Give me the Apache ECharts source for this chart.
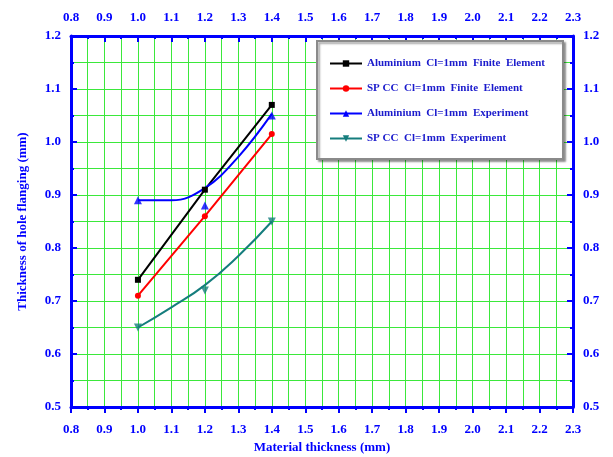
<!DOCTYPE html>
<html>
<head>
<meta charset="utf-8">
<script src="https://cdn.jsdelivr.net/npm/echarts@6/dist/echarts.min.js"></script>
<style>
  html, body { margin: 0; padding: 0; background: #fff; }
  #main { width: 613px; height: 457px; }
</style>
</head>
<body>
<div id="main"></div>
<script>
// measured points
var xVals = [1.0, 1.2, 1.4];
var aluFE = [0.74, 0.91, 1.07];
var spccFE = [0.71, 0.86, 1.015];
var aluExp = [0.89, 0.88, 1.05];
var spccExp = [0.65, 0.72, 0.85];
// fitted curves of the experiment data
var aluFitX = [1.0, 1.1, 1.2, 1.3, 1.4];
var aluFitY = [0.89, 0.89, 0.913, 0.972, 1.053];
var spccFitX = [1.0, 1.1, 1.2, 1.3, 1.4];
var spccFitY = [0.65, 0.688, 0.73, 0.785, 0.85];

var names = [
  'Aluminium  Cl=1mm  Finite  Element',
  'SP CC  Cl=1mm  Finite  Element',
  'Aluminium  Cl=1mm  Experiment',
  'SP CC  Cl=1mm  Experiment'
];

var blue = '#0000ff';
var teal = '#157d7d';
var font = '"Liberation Serif", "DejaVu Serif", serif';

function pairs(xs, ys) {
  return xs.map(function (x, i) { return [x, ys[i]]; });
}

var chart = echarts.init(document.getElementById('main'));

function xAxisOf(pos) {
  return {
    type: 'value',
    position: pos,
    min: 0.8,
    max: 2.3,
    interval: 0.1,
    axisLine: { show: true, onZero: false, lineStyle: { color: blue, width: 3 } },
    axisTick: { show: true, inside: pos === 'top', length: 6, lineStyle: { color: blue, width: 2 } },
    minorTick: { show: true, splitNumber: 2, length: 3, lineStyle: { color: blue, width: 2 } },
    axisLabel: {
      color: blue, fontFamily: font, fontWeight: 'bold', fontSize: 13, margin: pos === 'top' ? 12 : 16,
      formatter: function (v) { return v.toFixed(1); }
    },
    splitLine: { show: pos === 'bottom', lineStyle: { color: '#3be83b', width: 1 } },
    minorSplitLine: { show: pos === 'bottom', lineStyle: { color: '#3be83b', width: 1 } }
  };
}

function yAxisOf(pos) {
  return {
    type: 'value',
    position: pos,
    min: 0.5,
    max: 1.2,
    interval: 0.1,
    axisLine: { show: true, onZero: false, lineStyle: { color: blue, width: 3 } },
    axisTick: { show: true, inside: true, length: 6, lineStyle: { color: blue, width: 2 } },
    minorTick: { show: true, splitNumber: 2, length: 3, lineStyle: { color: blue, width: 2 } },
    axisLabel: {
      color: blue, fontFamily: font, fontWeight: 'bold', fontSize: 13, margin: 10,
      formatter: function (v) { return v.toFixed(1); }
    },
    splitLine: { show: pos === 'left', lineStyle: { color: '#3be83b', width: 1 } },
    minorSplitLine: { show: pos === 'left', lineStyle: { color: '#3be83b', width: 1 } }
  };
}

var xBottom = xAxisOf('bottom');
xBottom.name = 'Material thickness (mm)';
xBottom.nameLocation = 'middle';
xBottom.nameGap = 34;
xBottom.nameTextStyle = { color: blue, fontFamily: font, fontWeight: 'bold', fontSize: 13 };

var yLeft = yAxisOf('left');
yLeft.name = 'Thickness of hole flanging (mm)';
yLeft.nameLocation = 'middle';
yLeft.nameGap = 42;
yLeft.nameTextStyle = { color: blue, fontFamily: font, fontWeight: 'bold', fontSize: 13 };

var option = {
  animation: false,
  backgroundColor: '#fff',
  grid: { left: 71, right: 40, top: 36, bottom: 50, outerBoundsMode: 'none' },
  xAxis: [xBottom, xAxisOf('top')],
  yAxis: [yLeft, yAxisOf('right')],
  legend: {
    data: names,
    orient: 'vertical',
    left: 317,
    top: 41,
    padding: [17, 18, 15, 12],
    itemGap: 14,
    itemWidth: 32,
    itemHeight: 8,
    backgroundColor: '#fff',
    borderColor: '#8a8a8a',
    borderWidth: 2,
    shadowColor: 'rgba(0,0,0,0.35)',
    shadowOffsetX: 2,
    shadowOffsetY: 2,
    shadowBlur: 2,
    textStyle: { color: '#1a1acc', fontFamily: font, fontWeight: 'bold', fontSize: 11 }
  },
  series: [
    {
      name: names[0], type: 'line', data: pairs(xVals, aluFE),
      symbol: 'rect', symbolSize: 6, color: '#000',
      lineStyle: { color: '#000', width: 2 }, z: 3
    },
    {
      name: names[1], type: 'line', data: pairs(xVals, spccFE),
      symbol: 'circle', symbolSize: 6, color: '#ff0000',
      lineStyle: { color: '#ff0000', width: 2 }, z: 3
    },
    {
      name: names[2], type: 'line', data: pairs(aluFitX, aluFitY), smooth: 0.4,
      symbol: 'triangle', symbolSize: 7, showSymbol: false, color: blue,
      lineStyle: { color: blue, width: 2 }, z: 3
    },
    {
      name: names[3], type: 'line', data: pairs(spccFitX, spccFitY), smooth: true,
      symbol: 'triangle', symbolRotate: 180, symbolSize: 7, showSymbol: false, color: teal,
      lineStyle: { color: teal, width: 2 }, z: 3
    },
    {
      name: 'aluExpPts', type: 'scatter', data: pairs(xVals, aluExp),
      symbol: 'triangle', symbolSize: 8, itemStyle: { color: blue }, z: 4
    },
    {
      name: 'spccExpPts', type: 'scatter', data: pairs(xVals, spccExp),
      symbol: 'triangle', symbolRotate: 180, symbolSize: 8, itemStyle: { color: teal }, z: 4
    }
  ]
};

chart.setOption(option);
</script>
</body>
</html>
